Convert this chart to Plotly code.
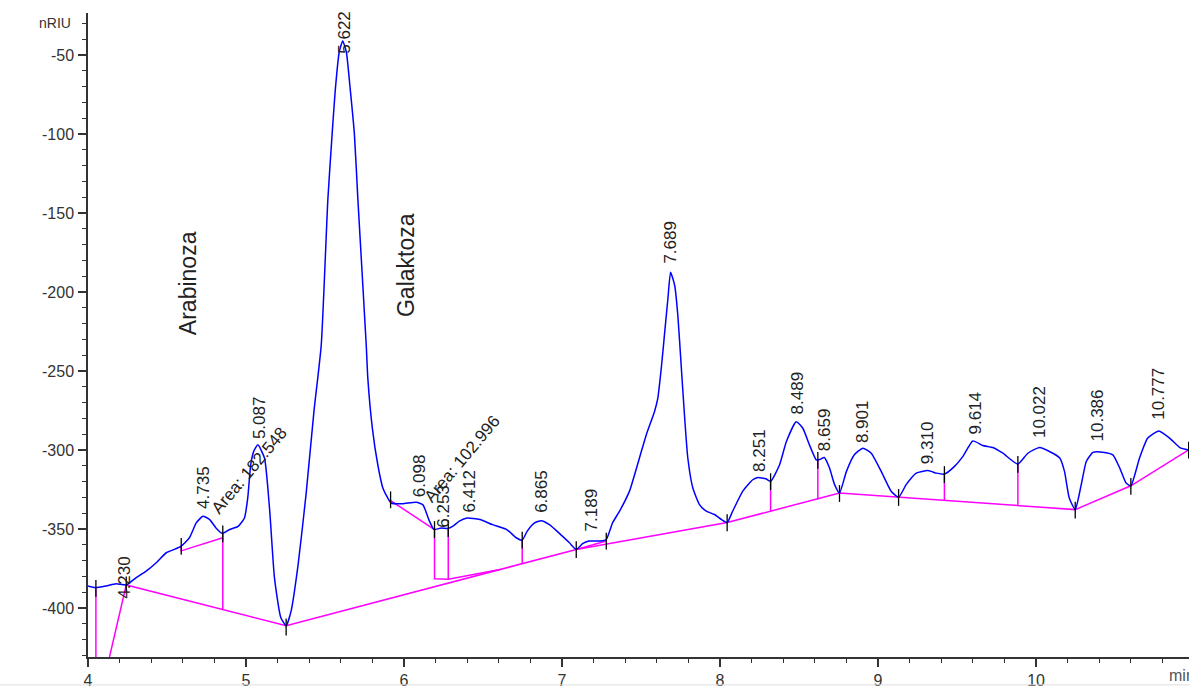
import plotly.graph_objects as go

# ---------------- data ----------------
time_min = [4.000, 4.047, 4.115, 4.178, 4.242, 4.305, 4.368, 4.432, 4.495, 4.547,
            4.590, 4.642, 4.685, 4.727, 4.770, 4.810, 4.850, 4.896, 4.950, 4.990,
            5.011, 5.030, 5.050, 5.075, 5.117, 5.150, 5.180, 5.220, 5.254, 5.286,
            5.330, 5.380, 5.430, 5.476, 5.518, 5.545, 5.565, 5.590, 5.612, 5.635,
            5.660, 5.686, 5.708, 5.761, 5.771, 5.800, 5.834, 5.866, 5.897, 5.919,
            5.990, 6.077, 6.120, 6.161, 6.190, 6.235, 6.277, 6.310, 6.350, 6.400,
            6.480, 6.560, 6.650, 6.710, 6.748, 6.780, 6.826, 6.868, 6.920, 6.980,
            7.047, 7.090, 7.130, 7.170, 7.240, 7.280, 7.320, 7.364, 7.427, 7.490,
            7.533, 7.585, 7.606, 7.630, 7.650, 7.670, 7.687, 7.713, 7.733, 7.754,
            7.775, 7.796, 7.828, 7.870, 7.913, 7.965, 8.010, 8.045, 8.080, 8.144,
            8.207, 8.240, 8.290, 8.320, 8.377, 8.420, 8.482, 8.524, 8.566, 8.609,
            8.630, 8.660, 8.693, 8.725, 8.756, 8.800, 8.850, 8.904, 8.957, 9.020,
            9.083, 9.130, 9.178, 9.242, 9.316, 9.370, 9.420, 9.484, 9.537, 9.600,
            9.663, 9.727, 9.790, 9.885, 9.948, 10.022, 10.085, 10.150, 10.180, 10.210,
            10.248, 10.286, 10.318, 10.360, 10.420, 10.486, 10.530, 10.570, 10.600, 10.655,
            10.707, 10.777, 10.845, 10.910, 10.966]
signal_nriu = [-386.0, -387.1, -386.0, -384.6, -385.4, -380.8, -376.6, -371.3, -365.0, -362.9,
               -360.8, -355.5, -346.1, -341.9, -344.0, -349.3, -352.8, -350.3, -348.3, -343.0,
               -330.3, -309.0, -300.5, -296.7, -305.0, -338.5, -380.8, -406.0, -411.2, -401.6,
               -372.4, -328.0, -275.5, -233.7, -141.3, -100.0, -72.0, -48.0, -41.0, -48.0,
               -72.0, -100.0, -141.3, -233.7, -254.6, -286.4, -309.3, -324.0, -330.3, -333.5,
               -334.0, -333.0, -334.7, -345.0, -350.3, -349.3, -349.7, -348.2, -345.0, -343.0,
               -344.0, -347.2, -350.3, -355.5, -357.0, -351.3, -346.1, -344.7, -347.2, -352.4,
               -358.7, -362.9, -359.3, -357.6, -357.6, -356.6, -346.0, -338.7, -326.0, -305.0,
               -290.4, -275.7, -267.3, -246.3, -225.2, -204.2, -187.4, -195.8, -214.8, -246.3,
               -277.8, -305.0, -324.0, -334.5, -338.7, -340.8, -344.0, -345.9, -338.7, -326.0,
               -318.8, -317.3, -318.2, -319.8, -309.3, -294.6, -282.0, -286.2, -296.7, -306.2,
               -306.0, -304.7, -311.4, -321.9, -327.2, -313.5, -303.0, -298.8, -302.0, -313.5,
               -326.1, -329.9, -321.9, -314.6, -313.0, -314.6, -315.2, -310.3, -304.0, -294.2,
               -297.1, -298.4, -302.0, -308.9, -302.0, -298.4, -300.9, -305.0, -313.5, -330.3,
               -337.7, -321.9, -307.2, -301.5, -301.3, -303.0, -311.4, -320.9, -322.6, -305.0,
               -292.4, -287.9, -292.4, -298.4, -299.9]

# integration baselines and drop lines (None separates segments)
baseline_t = [4.050, 4.050, None,
              4.136, 4.242, 5.254, 7.090, 8.045, 8.756, 10.248, 10.600, 10.966, None,
              4.590, 4.590, 4.853, None,
              4.853, 4.853, None,
              5.915, 6.193, 6.193, 6.280, 6.280, None,
              6.280, 6.607, None,
              6.748, 6.748, None,
              7.090, 7.280, None,
              8.320, 8.320, None,
              8.619, 8.619, None,
              9.420, 9.420, None,
              9.885, 9.885]
baseline_v = [-388.0, -431.0, None,
              -431.0, -385.4, -411.2, -362.9, -345.9, -327.2, -337.7, -322.6, -299.9, None,
              -360.8, -363.8, -355.5, None,
              -352.8, -401.3, None,
              -332.0, -350.3, -381.5, -381.8, -349.7, None,
              -381.8, -375.6, None,
              -357.0, -371.9, None,
              -362.9, -357.6, None,
              -319.8, -338.7, None,
              -306.2, -331.3, None,
              -315.2, -331.9, None,
              -308.9, -335.1]

# integration event marks
event_t = [4.050, 4.242, 4.590, 4.853, 5.254, 5.915, 6.193, 6.280, 6.748, 7.090, 7.280,
           8.045, 8.320, 8.619, 8.756, 9.130, 9.420, 9.885, 10.248, 10.600, 10.966]
event_v = [-387.5, -385.4, -361.0, -353.0, -412.0, -331.5, -350.3, -349.7, -357.0, -363.0, -357.6,
           -346.0, -320.0, -306.5, -327.5, -330.0, -315.5, -309.0, -338.0, -323.0, -300.0]

peak_labels = ["4.230", "4.735", "5.087", "5.622", "6.098", "6.253", "6.412", "6.865", "7.189",
               "7.689", "8.251", "8.489", "8.659", "8.901", "9.310", "9.614", "10.022", "10.386",
               "10.777"]
peak_apex = [-385.4, -341.9, -296.7, -41.0, -333.0, -349.5, -343.0, -344.7, -357.6,
             -187.4, -317.5, -282.0, -304.7, -298.8, -313.0, -294.2, -298.4, -301.5, -287.9]
label_shift_px = [-16, 5, 4, -15, 3, -1, 3, 6, 8, 7, 4, 5, 4, 3, 4, 4, 7, 9, 9]

area_labels = ["Area: 182.548", "Area: 102.996"]
compound_names = ["Arabinoza", "Galaktoza"]
x_ticks = [4, 5, 6, 7, 8, 9, 10]
y_ticks = [-50, -100, -150, -200, -250, -300, -350, -400]

FONT = "Liberation Sans, Arial, sans-serif"
LBL = dict(family=FONT, size=17, color="#222")

fig = go.Figure()
fig.add_trace(go.Scatter(x=baseline_t, y=baseline_v, mode="lines",
                         line=dict(color="#ff00ff", width=1.5), hoverinfo="skip"))
fig.add_trace(go.Scatter(x=time_min, y=signal_nriu, mode="lines",
                         line=dict(color="#0000ff", width=1.5, shape="spline", smoothing=0.5)))
fig.add_trace(go.Scatter(x=event_t, y=event_v, mode="markers",
                         marker=dict(symbol="line-ns", size=12, color="black",
                                     line=dict(color="black", width=1.3)), hoverinfo="skip"))

annotations = []
for lbl, apex, sh in zip(peak_labels, peak_apex, label_shift_px):
    annotations.append(dict(x=float(lbl), y=apex, xref="x", yref="y", text=lbl,
                            textangle=-90, xanchor="center", yanchor="bottom", yshift=sh,
                            showarrow=False, font=LBL))
# area labels
annotations.append(dict(x=5.022, y=-313.0, text=area_labels[0], textangle=-50, showarrow=False,
                        xanchor="center", yanchor="middle", font=LBL))
annotations.append(dict(x=6.372, y=-305.6, text=area_labels[1], textangle=-50, showarrow=False,
                        xanchor="center", yanchor="middle", font=LBL))
# compound names
annotations.append(dict(x=4.63, y=-194.6, text=compound_names[0], textangle=-90, showarrow=False,
                        xanchor="center", yanchor="middle",
                        font=dict(family=FONT, size=23, color="#222")))
annotations.append(dict(x=6.014, y=-182.7, text=compound_names[1], textangle=-90, showarrow=False,
                        xanchor="center", yanchor="middle",
                        font=dict(family=FONT, size=23, color="#222")))
# axis units
annotations.append(dict(x=-0.014, y=0.985, xref="paper", yref="paper", text="nRIU",
                        xanchor="right", yanchor="middle", showarrow=False,
                        font=dict(family=FONT, size=14, color="#333")))
annotations.append(dict(x=10.83, y=-0.029, xref="x", yref="paper", text="min",
                        xanchor="left", yanchor="middle", showarrow=False,
                        font=dict(family=FONT, size=16, color="#555")))

axis_common = dict(showline=True, linecolor="#333", linewidth=1.5, ticks="outside",
                   ticklen=8, tickwidth=1.5, tickcolor="#333", showgrid=False, zeroline=False,
                   tickfont=dict(family=FONT, size=16, color="#333"))

fig.update_layout(
    width=1189, height=689,
    margin=dict(l=88, r=0, t=13, b=30),
    paper_bgcolor="white", plot_bgcolor="white",
    showlegend=False,
    annotations=annotations,
    xaxis=dict(range=[4.0, 10.968], tickvals=x_ticks, ticktext=[str(v) for v in x_ticks],
               minor=dict(dtick=0.2, tick0=4, ticks="outside", ticklen=4, tickwidth=1.2,
                          tickcolor="#333"),
               ticklabelstandoff=0, **axis_common),
    yaxis=dict(range=[-431.0, -23.3], tickvals=y_ticks, ticktext=[str(v) for v in y_ticks],
               minor=dict(dtick=10, tick0=0, ticks="outside", ticklen=4, tickwidth=1.2,
                          tickcolor="#333"),
               ticklabelstandoff=1, **axis_common),
    shapes=[dict(type="line", xref="paper", yref="paper", x0=-0.09, x1=1.0,
                 y0=-0.0433, y1=-0.0433, line=dict(color="#dddddd", width=1))],
)

# remove the default page margin so the 1189x689 figure fills the window exactly
fig.write_html("out.html",
               config={"displayModeBar": False},
               post_script="document.body.style.margin='0';document.body.style.overflow='hidden';")
